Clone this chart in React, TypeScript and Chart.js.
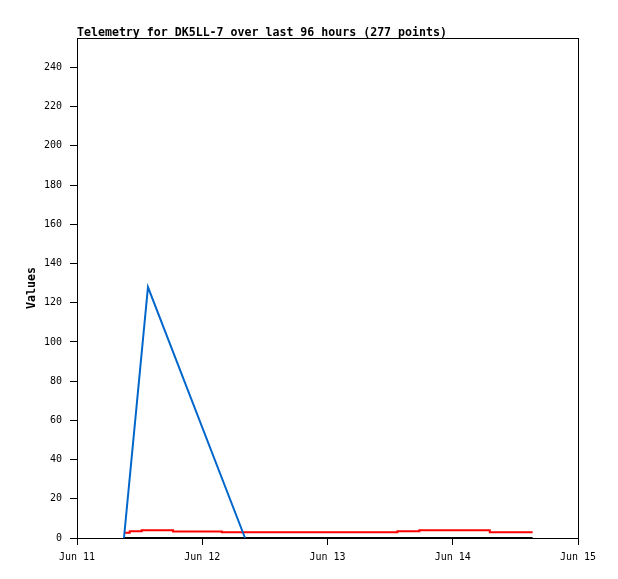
import React, { useEffect, useRef } from "react";
import { Chart, registerables } from "chart.js";

Chart.register(...registerables);

const titleText = "Telemetry for DK5LL-7 over last 96 hours (277 points)";
const yAxisTitle = "Values";

// x values are hours since Jun 11 00:00
const xTickValues = [0, 24, 48, 72, 96];
const xTickLabels = ["Jun 11", "Jun 12", "Jun 13", "Jun 14", "Jun 15"];
const yTickValues = [0, 20, 40, 60, 80, 100, 120, 140, 160, 180, 200, 220, 240];

const blueHours = [9.0, 13.6, 32.2];
const blueValues = [0, 128, 0];

const redHours = [9.0, 10.1, 12.4, 18.4, 27.75, 61.4, 65.6, 79.1, 87.3];
const redValues = [2.7, 3.4, 3.9, 3.3, 2.9, 3.4, 3.9, 2.9, 2.9];

const blackHours = [9.0, 87.3];
const blackValues = [0, 0];

const toPoints = (xs: number[], ys: number[]) => xs.map((x, i) => ({ x, y: ys[i] }));

const framePlugin = {
  id: "frameAndTitles",
  afterDraw(chart: any) {
    const { ctx, chartArea } = chart;
    ctx.save();
    ctx.strokeStyle = "#000";
    ctx.lineWidth = 1;
    ctx.strokeRect(
      Math.round(chartArea.left) + 0.5,
      Math.round(chartArea.top) + 0.5,
      Math.round(chartArea.right - chartArea.left),
      Math.round(chartArea.bottom - chartArea.top)
    );
    ctx.fillStyle = "#000";
    ctx.font = 'bold 11.6px "DejaVu Sans Mono"';
    ctx.textAlign = "left";
    ctx.textBaseline = "alphabetic";
    ctx.fillText(titleText, chartArea.left, 36);
    ctx.translate(32, (chartArea.top + chartArea.bottom) / 2);
    ctx.rotate(-Math.PI / 2);
    ctx.textAlign = "center";
    ctx.textBaseline = "middle";
    ctx.fillText(yAxisTitle, 0, 0);
    ctx.restore();
  },
};

export default function App() {
  const ref = useRef<HTMLCanvasElement | null>(null);
  useEffect(() => {
    if (!ref.current) return;
    const tickFont = { family: '"DejaVu Sans Mono"', size: 10 };
    const chart = new Chart(ref.current, {
      type: "line",
      data: {
        datasets: [
          {
            data: toPoints(blueHours, blueValues),
            borderColor: "#0066cc",
            borderWidth: 2,
            pointRadius: 0,
            tension: 0,
            clip: false as any,
          },
          {
            data: toPoints(redHours, redValues),
            borderColor: "#ff0000",
            borderWidth: 2,
            pointRadius: 0,
            stepped: true,
            clip: false as any,
          },
          {
            data: toPoints(blackHours, blackValues),
            borderColor: "#000000",
            borderWidth: 2,
            pointRadius: 0,
            clip: false as any,
          },
        ],
      },
      options: {
        animation: false,
        responsive: false,
        layout: { padding: { top: 38, right: 40, bottom: 0, left: 0 } },
        plugins: {
          legend: { display: false },
          tooltip: { enabled: false },
          title: { display: false },
        },
        scales: {
          x: {
            type: "linear",
            min: 0,
            max: 96,
            afterBuildTicks: (scale: any) => {
              scale.ticks = xTickValues.map((v) => ({ value: v }));
            },
            afterFit: (scale: any) => {
              scale.height = 41;
            },
            ticks: {
              color: "#000",
              font: tickFont,
              padding: 6,
              maxRotation: 0,
              autoSkip: false,
              callback: (v: any) => {
                const i = xTickValues.indexOf(Number(v));
                return i >= 0 ? xTickLabels[i] : "";
              },
            },
            grid: { drawOnChartArea: false, drawTicks: true, tickLength: 7, color: "#000" },
            border: { display: false },
          },
          y: {
            type: "linear",
            min: 0,
            max: 255,
            afterBuildTicks: (scale: any) => {
              scale.ticks = yTickValues.map((v) => ({ value: v }));
            },
            afterFit: (scale: any) => {
              scale.width = 77;
            },
            ticks: {
              color: "#000",
              font: tickFont,
              padding: 8,
              autoSkip: false,
            },
            grid: { drawOnChartArea: false, drawTicks: true, tickLength: 7, color: "#000" },
            border: { display: false },
          },
        },
      },
      plugins: [framePlugin],
    });
    return () => chart.destroy();
  }, []);
  return (
    <div style={{ position: "absolute", left: 0, top: 0, width: 618, height: 579, background: "#fff" }}>
      <canvas ref={ref} width={618} height={579} />
    </div>
  );
}
